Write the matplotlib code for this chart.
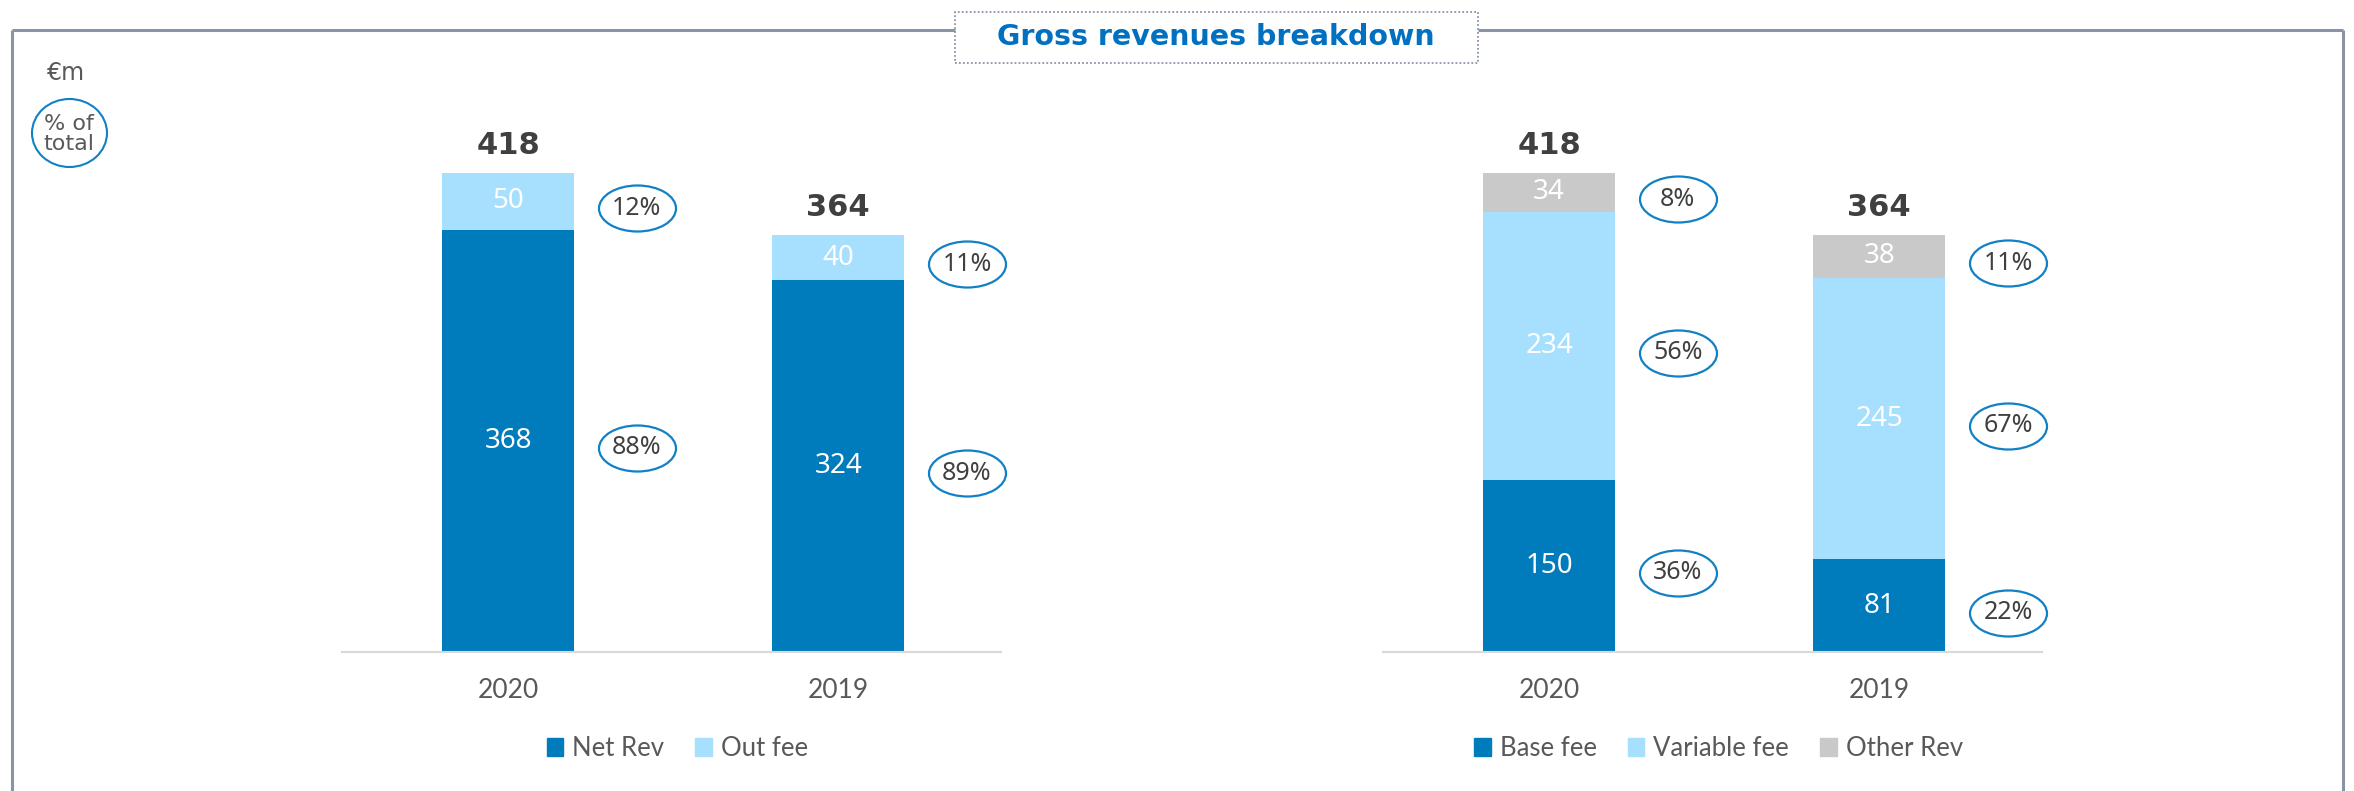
import numpy as np
import matplotlib
matplotlib.use("Agg")
import matplotlib.pyplot as plt
from matplotlib.patches import Patch, Rectangle, Ellipse
from matplotlib.lines import Line2D
from matplotlib.path import Path
from matplotlib.transforms import Affine2D

# Data
years = ["2020", "2019"]

# left chart: net revenues vs out fee
net_rev = [368, 324]
out_fee = [50, 40]
net_rev_pct = ["88%", "89%"]
out_fee_pct = ["12%", "11%"]

# right chart: base / variable / other
base_fee = [150, 81]
variable_fee = [234, 245]
other_rev = [34, 38]
base_pct = ["36%", "22%"]
variable_pct = ["56%", "67%"]
other_pct = ["8%", "11%"]

# Style
DARK = "#007BBB"
LIGHT = "#A6E0FE"
GREY = "#C9C9C9"
FRAME = "#8A94A6"
RING = "#1280C4"
TXT = "#404040"
TXT2 = "#595959"

W, H = 2354, 791
fig = plt.figure(figsize=(W / 100, H / 100), dpi=100)


def fx(px):
    return px / W


def fy(py):
    return 1 - py / H


# outer frame, broken by the title box
for xs, ys in [([12, 12], [791, 30]), ([12, 955], [30, 30]),
               ([1478, 2343], [30, 30]), ([2343, 2343], [30, 791])]:
    fig.add_artist(Line2D([fx(x) for x in xs], [fy(y) for y in ys],
                          color=FRAME, lw=2.2, solid_capstyle="butt"))
fig.add_artist(Rectangle((fx(955), fy(63)), fx(1478) - fx(955), fy(12) - fy(63),
                         transform=fig.transFigure, facecolor="white",
                         edgecolor=FRAME, lw=1.3, linestyle=(0, (1, 1.2))))
fig.text(fx(1216), fy(37), "Gross revenues breakdown", ha="center", va="center",
         fontsize=20.5, fontweight="bold", color="#0070C0", family="DejaVu Sans")

# unit label and legend for the rings
fig.text(fx(66), fy(73), "€m", ha="center", va="center", fontsize=17,
         color=TXT2, family="DejaVu Sans")
fig.add_artist(Ellipse((69.5 / 100, (H - 133) / 100), 0.75, 0.68,
                       transform=fig.dpi_scale_trans, facecolor="none",
                       edgecolor=RING, lw=1.5))
fig.text(fx(69), fy(134), "% of\ntotal", ha="center", va="center", fontsize=16,
         color=TXT2, family="DejaVu Sans", linespacing=1.0)

# ellipse marker: 77 x 46 px
ring = Path.unit_circle().transformed(Affine2D().scale(77 / 46, 1))
RING_MS = 77 * 0.72
RING_DX = 0.39
RING_DY = -5  # points, rings sit a touch below the segment centre

BAR_W = 0.40
X = np.arange(len(years))
Y_TOP = (652 - 100) / 1.1467


def make_axes(left_px):
    ax = fig.add_axes([fx(left_px), fy(652), fx(659), (652 - 100) / H])
    ax.set_xlim(-0.503, 1.493)
    ax.set_ylim(0, Y_TOP)
    for s in ["top", "right", "left"]:
        ax.spines[s].set_visible(False)
    ax.spines["bottom"].set_color("#D9D9D9")
    ax.spines["bottom"].set_linewidth(1.5)
    ax.set_yticks([])
    ax.set_xticks(X)
    ax.set_xticklabels(years, fontsize=19, color=TXT2, family="Lato")
    ax.tick_params(axis="x", length=0, pad=19)
    ax.patch.set_alpha(0)
    return ax


def stack(ax, series, colors, pcts):
    bottom = np.zeros(len(X))
    ring_tr = ax.transData + Affine2D().translate(0, RING_DY * 100 / 72)
    for vals, col, pct in zip(series, colors, pcts):
        vals = np.array(vals, dtype=float)
        ax.bar(X, vals, BAR_W, bottom=bottom, color=col, edgecolor="none")
        mid = bottom + vals / 2
        for i in range(len(X)):
            ax.text(X[i], mid[i], f"{vals[i]:.0f}", ha="center", va="center",
                    fontsize=20, color="white", family="Noto Sans")
            ax.plot(X[i] + RING_DX, mid[i], marker=ring, ms=RING_MS, mfc="none",
                    mec=RING, mew=1.6, ls="none", transform=ring_tr, clip_on=False)
            ax.annotate(pct[i], (X[i] + RING_DX, mid[i]), xytext=(0, RING_DY),
                        textcoords="offset points", ha="center", va="center",
                        fontsize=18, color=TXT, family="Noto Sans",
                        annotation_clip=False)
        bottom = bottom + vals
    for i in range(len(X)):
        ax.annotate(f"{bottom[i]:.0f}", (X[i], bottom[i]), xytext=(0, 19.5),
                    textcoords="offset points", ha="center", va="center",
                    fontsize=22, fontweight="bold", color=TXT, family="DejaVu Sans")


def add_legend(ax, labels, colors):
    ax.legend(handles=[Patch(color=c, label=l) for l, c in zip(labels, colors)],
              loc="center", bbox_to_anchor=(0.509, -0.175), ncol=len(labels),
              frameon=False, prop={"family": "Lato", "size": 18.5}, labelcolor=TXT2,
              handlelength=0.65, handleheight=0.65, handletextpad=0.35,
              columnspacing=1.2)


ax1 = make_axes(342)
stack(ax1, [net_rev, out_fee], [DARK, LIGHT], [net_rev_pct, out_fee_pct])
add_legend(ax1, ["Net Rev", "Out fee"], [DARK, LIGHT])

ax2 = make_axes(1383)
stack(ax2, [base_fee, variable_fee, other_rev], [DARK, LIGHT, GREY],
      [base_pct, variable_pct, other_pct])
add_legend(ax2, ["Base fee", "Variable fee", "Other Rev"], [DARK, LIGHT, GREY])

fig.savefig("out.png", dpi=100)
